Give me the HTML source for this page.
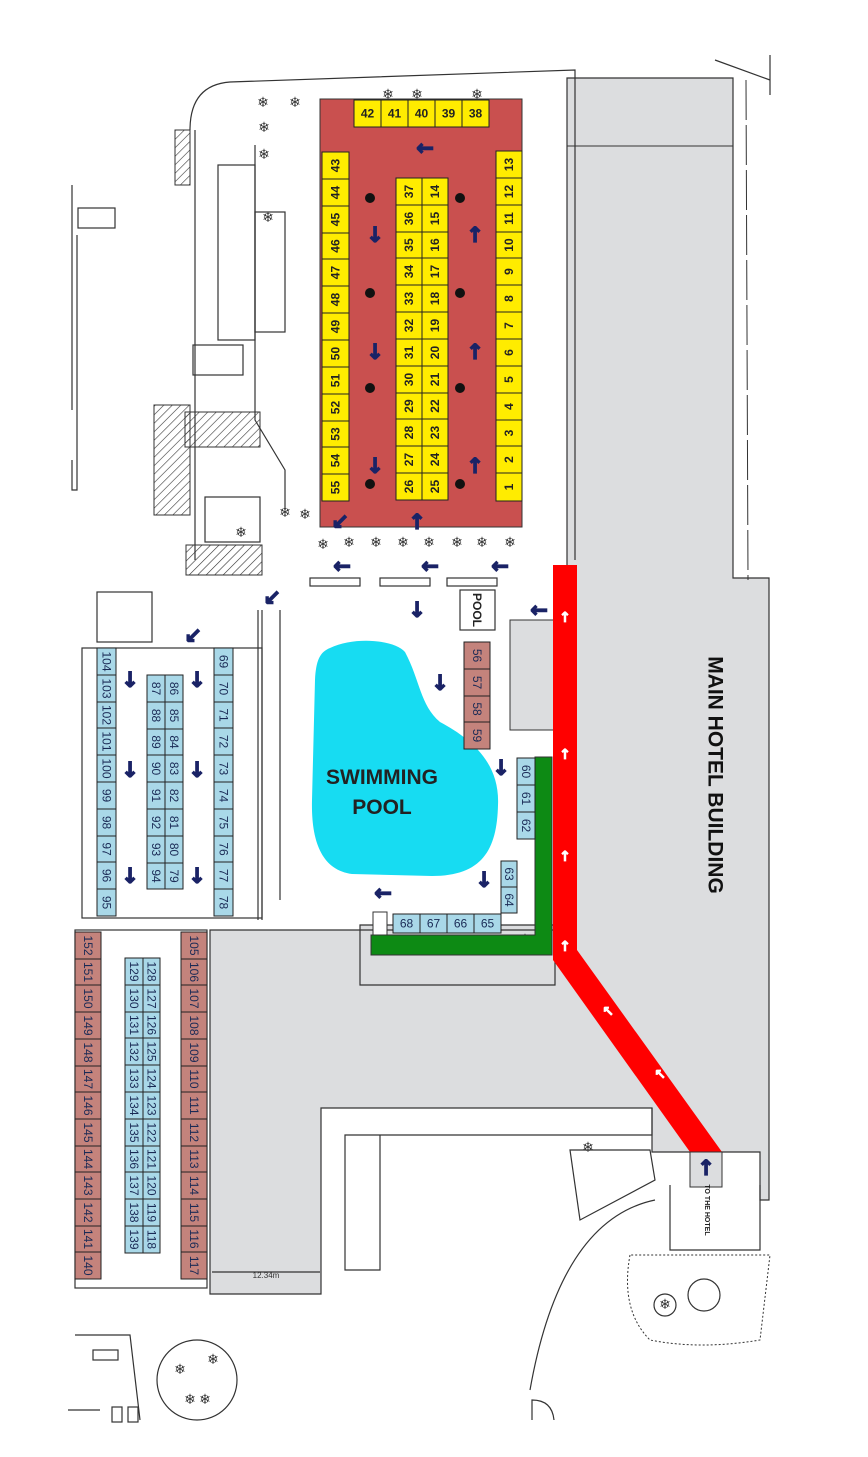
<!DOCTYPE html>
<html><head><meta charset="utf-8"><style>
html,body{margin:0;padding:0;background:#fff}
svg{display:block}
.y{fill:#ffec00;stroke:#222;stroke-width:1}
.b{fill:#a9d8e8;stroke:#222;stroke-width:1}
.r{fill:#c4837c;stroke:#222;stroke-width:1}
.t{font-family:"Liberation Sans",sans-serif;font-size:12px;font-weight:bold;fill:#222;text-anchor:middle;dominant-baseline:central}
.tb{font-family:"Liberation Sans",sans-serif;font-size:12px;fill:#1a2a55;text-anchor:middle;dominant-baseline:central}
.a{font-family:"DejaVu Sans",sans-serif;font-size:21px;font-weight:bold;fill:#1a2366;stroke:#1a2366;stroke-width:1.3;text-anchor:middle;dominant-baseline:central}
.w{font-family:"DejaVu Sans",sans-serif;font-size:14px;font-weight:bold;fill:#fff;stroke:#fff;stroke-width:0.8;text-anchor:middle;dominant-baseline:central}
.ln{fill:none;stroke:#333;stroke-width:1.2}
.sn{font-family:"DejaVu Sans",sans-serif;font-size:14px;fill:#333;text-anchor:middle;dominant-baseline:central}
</style></head><body>
<svg width="868" height="1457" viewBox="0 0 868 1457" xmlns="http://www.w3.org/2000/svg">
<path d="M567,78 L733,78 L733,578 L769,578 L769,1200 L760,1200 L760,1152 L652,1152 L652,1108 L321,1108 L321,1294 L210,1294 L210,930 L555,930 L555,985 L360,985 L360,925 L567,925 Z" fill="#dcdddf" stroke="#333" stroke-width="1.2"/>
<line x1="567" y1="146" x2="733" y2="146" stroke="#333"/>
<line x1="746" y1="80" x2="748" y2="580" stroke="#333" stroke-dasharray="40,5"/>
<path d="M715,60 L770,80 M770,55 L770,95" class="ln"/>
<path d="M190,130 Q190,85 230,82 L575,70 L575,560" class="ln"/>
<path d="M195,130 L195,560" class="ln"/>
<path d="M255,145 L255,420 L285,470 L285,510" class="ln"/>
<rect x="218" y="165" width="37" height="175" class="ln"/>
<rect x="255" y="212" width="30" height="120" class="ln"/>
<rect x="193" y="345" width="50" height="30" class="ln"/>
<defs><pattern id="h" width="6" height="6" patternUnits="userSpaceOnUse" patternTransform="rotate(45)"><line x1="0" y1="0" x2="0" y2="6" stroke="#333" stroke-width="1.2"/></pattern></defs>
<rect x="175" y="130" width="15" height="55" fill="url(#h)" stroke="#333"/>
<rect x="154" y="405" width="36" height="110" fill="url(#h)" stroke="#333"/>
<rect x="185" y="412" width="75" height="35" fill="url(#h)" stroke="#333"/>
<rect x="186" y="545" width="76" height="30" fill="url(#h)" stroke="#333"/>
<rect x="205" y="497" width="55" height="45" class="ln"/>
<path d="M72,185 L72,410 M72,460 L72,490 L77,490 L77,235" class="ln"/>
<rect x="78" y="208" width="37" height="20" class="ln"/>
<rect x="97" y="592" width="55" height="50" class="ln"/>
<path d="M258,610 L258,920 M280,610 L280,900 M262,610 L262,920" class="ln"/>
<rect x="82" y="648" width="180" height="270" class="ln"/>
<rect x="75" y="930" width="132" height="358" class="ln"/>
<path d="M212,1272 L320,1272" class="ln"/>
<text x="266" y="1278" font-family="Liberation Sans" font-size="8" fill="#333" text-anchor="middle">12.34m</text>
<path d="M380,1135 L380,1270 L345,1270 L345,1135 Z M380,1135 L652,1135 L652,1108" class="ln"/>
<path d="M570,1150 L650,1150 L655,1180 L580,1220 Z" class="ln"/>
<path d="M670,1185 L670,1250 L760,1250 L760,1185 M655,1200 Q560,1220 530,1390" class="ln"/>
<path d="M630,1255 Q620,1310 650,1340 Q700,1350 760,1340 L770,1255 Z" fill="#fff" stroke="#333" stroke-dasharray="2,2"/>
<circle cx="704" cy="1295" r="16" class="ln"/>
<circle cx="665" cy="1305" r="11" class="ln"/>
<text x="665" y="1305" class="sn">❄</text>
<path d="M532,1420 L532,1400 Q552,1400 554,1420" class="ln"/>
<circle cx="197" cy="1380" r="40" class="ln"/>
<text x="180" y="1370" class="sn">❄</text><text x="213" y="1360" class="sn">❄</text><text x="190" y="1400" class="sn">❄</text><text x="205" y="1400" class="sn">❄</text>
<path d="M75,1335 L130,1335 L140,1420 M68,1410 L100,1410" class="ln"/>
<rect x="93" y="1350" width="25" height="10" class="ln"/>
<rect x="112" y="1407" width="10" height="15" class="ln"/><rect x="128" y="1407" width="10" height="15" class="ln"/>
<rect x="510" y="620" width="45" height="110" fill="#dcdddf" stroke="#333"/>
<rect x="460" y="590" width="35" height="40" class="ln"/>
<text x="477" y="610" class="t" font-size="8" transform="rotate(90 477 610)">POOL</text>
<rect x="310" y="578" width="50" height="8" class="ln"/><rect x="380" y="578" width="50" height="8" class="ln"/><rect x="447" y="578" width="50" height="8" class="ln"/>
<rect x="320" y="99" width="202" height="428" fill="#c9504f" stroke="#333"/>
<g class="sn"><text x="263" y="103">❄</text><text x="295" y="103">❄</text><text x="388" y="95">❄</text><text x="417" y="95">❄</text><text x="477" y="95">❄</text><text x="264" y="128">❄</text><text x="264" y="155">❄</text><text x="268" y="218">❄</text>
<text x="285" y="513">❄</text><text x="305" y="515">❄</text><text x="323" y="545">❄</text><text x="349" y="543">❄</text><text x="376" y="543">❄</text><text x="403" y="543">❄</text><text x="429" y="543">❄</text><text x="457" y="543">❄</text><text x="482" y="543">❄</text><text x="510" y="543">❄</text><text x="241" y="533">❄</text>
<text x="525" y="940">❄</text><text x="588" y="1148">❄</text></g>
<g>
<rect class="y" x="354" y="100" width="27" height="27"/><text class="t" x="367.5" y="113.5">42</text>
<rect class="y" x="381" y="100" width="27" height="27"/><text class="t" x="394.5" y="113.5">41</text>
<rect class="y" x="408" y="100" width="27" height="27"/><text class="t" x="421.5" y="113.5">40</text>
<rect class="y" x="435" y="100" width="27" height="27"/><text class="t" x="448.5" y="113.5">39</text>
<rect class="y" x="462" y="100" width="27" height="27"/><text class="t" x="475.5" y="113.5">38</text>
</g>
<g>
<rect class="y" x="322" y="152" width="27" height="27"/><text class="t" x="335.5" y="165.5" transform="rotate(-90 335.5 165.5)">43</text>
<rect class="y" x="322" y="179" width="27" height="27"/><text class="t" x="335.5" y="192.5" transform="rotate(-90 335.5 192.5)">44</text>
<rect class="y" x="322" y="206" width="27" height="27"/><text class="t" x="335.5" y="219.5" transform="rotate(-90 335.5 219.5)">45</text>
<rect class="y" x="322" y="233" width="27" height="26"/><text class="t" x="335.5" y="246" transform="rotate(-90 335.5 246)">46</text>
<rect class="y" x="322" y="259" width="27" height="27"/><text class="t" x="335.5" y="272.5" transform="rotate(-90 335.5 272.5)">47</text>
<rect class="y" x="322" y="286" width="27" height="27"/><text class="t" x="335.5" y="299.5" transform="rotate(-90 335.5 299.5)">48</text>
<rect class="y" x="322" y="313" width="27" height="27"/><text class="t" x="335.5" y="326.5" transform="rotate(-90 335.5 326.5)">49</text>
<rect class="y" x="322" y="340" width="27" height="27"/><text class="t" x="335.5" y="353.5" transform="rotate(-90 335.5 353.5)">50</text>
<rect class="y" x="322" y="367" width="27" height="27"/><text class="t" x="335.5" y="380.5" transform="rotate(-90 335.5 380.5)">51</text>
<rect class="y" x="322" y="394" width="27" height="27"/><text class="t" x="335.5" y="407.5" transform="rotate(-90 335.5 407.5)">52</text>
<rect class="y" x="322" y="421" width="27" height="26"/><text class="t" x="335.5" y="434" transform="rotate(-90 335.5 434)">53</text>
<rect class="y" x="322" y="447" width="27" height="27"/><text class="t" x="335.5" y="460.5" transform="rotate(-90 335.5 460.5)">54</text>
<rect class="y" x="322" y="474" width="27" height="27"/><text class="t" x="335.5" y="487.5" transform="rotate(-90 335.5 487.5)">55</text>
</g>
<g>
<rect class="y" x="396" y="178" width="26" height="27"/><text class="t" x="409" y="191.5" transform="rotate(-90 409 191.5)">37</text>
<rect class="y" x="396" y="205" width="26" height="27"/><text class="t" x="409" y="218.5" transform="rotate(-90 409 218.5)">36</text>
<rect class="y" x="396" y="232" width="26" height="26"/><text class="t" x="409" y="245" transform="rotate(-90 409 245)">35</text>
<rect class="y" x="396" y="258" width="26" height="27"/><text class="t" x="409" y="271.5" transform="rotate(-90 409 271.5)">34</text>
<rect class="y" x="396" y="285" width="26" height="27"/><text class="t" x="409" y="298.5" transform="rotate(-90 409 298.5)">33</text>
<rect class="y" x="396" y="312" width="26" height="27"/><text class="t" x="409" y="325.5" transform="rotate(-90 409 325.5)">32</text>
<rect class="y" x="396" y="339" width="26" height="27"/><text class="t" x="409" y="352.5" transform="rotate(-90 409 352.5)">31</text>
<rect class="y" x="396" y="366" width="26" height="27"/><text class="t" x="409" y="379.5" transform="rotate(-90 409 379.5)">30</text>
<rect class="y" x="396" y="393" width="26" height="26"/><text class="t" x="409" y="406" transform="rotate(-90 409 406)">29</text>
<rect class="y" x="396" y="419" width="26" height="27"/><text class="t" x="409" y="432.5" transform="rotate(-90 409 432.5)">28</text>
<rect class="y" x="396" y="446" width="26" height="27"/><text class="t" x="409" y="459.5" transform="rotate(-90 409 459.5)">27</text>
<rect class="y" x="396" y="473" width="26" height="27"/><text class="t" x="409" y="486.5" transform="rotate(-90 409 486.5)">26</text>
<rect class="y" x="422" y="178" width="26" height="27"/><text class="t" x="435" y="191.5" transform="rotate(-90 435 191.5)">14</text>
<rect class="y" x="422" y="205" width="26" height="27"/><text class="t" x="435" y="218.5" transform="rotate(-90 435 218.5)">15</text>
<rect class="y" x="422" y="232" width="26" height="26"/><text class="t" x="435" y="245" transform="rotate(-90 435 245)">16</text>
<rect class="y" x="422" y="258" width="26" height="27"/><text class="t" x="435" y="271.5" transform="rotate(-90 435 271.5)">17</text>
<rect class="y" x="422" y="285" width="26" height="27"/><text class="t" x="435" y="298.5" transform="rotate(-90 435 298.5)">18</text>
<rect class="y" x="422" y="312" width="26" height="27"/><text class="t" x="435" y="325.5" transform="rotate(-90 435 325.5)">19</text>
<rect class="y" x="422" y="339" width="26" height="27"/><text class="t" x="435" y="352.5" transform="rotate(-90 435 352.5)">20</text>
<rect class="y" x="422" y="366" width="26" height="27"/><text class="t" x="435" y="379.5" transform="rotate(-90 435 379.5)">21</text>
<rect class="y" x="422" y="393" width="26" height="26"/><text class="t" x="435" y="406" transform="rotate(-90 435 406)">22</text>
<rect class="y" x="422" y="419" width="26" height="27"/><text class="t" x="435" y="432.5" transform="rotate(-90 435 432.5)">23</text>
<rect class="y" x="422" y="446" width="26" height="27"/><text class="t" x="435" y="459.5" transform="rotate(-90 435 459.5)">24</text>
<rect class="y" x="422" y="473" width="26" height="27"/><text class="t" x="435" y="486.5" transform="rotate(-90 435 486.5)">25</text>
</g>
<g>
<rect class="y" x="496" y="151" width="26" height="27"/><text class="t" x="509" y="164.5" transform="rotate(-90 509 164.5)">13</text>
<rect class="y" x="496" y="178" width="26" height="27"/><text class="t" x="509" y="191.5" transform="rotate(-90 509 191.5)">12</text>
<rect class="y" x="496" y="205" width="26" height="27"/><text class="t" x="509" y="218.5" transform="rotate(-90 509 218.5)">11</text>
<rect class="y" x="496" y="232" width="26" height="26"/><text class="t" x="509" y="245" transform="rotate(-90 509 245)">10</text>
<rect class="y" x="496" y="258" width="26" height="27"/><text class="t" x="509" y="271.5" transform="rotate(-90 509 271.5)">9</text>
<rect class="y" x="496" y="285" width="26" height="27"/><text class="t" x="509" y="298.5" transform="rotate(-90 509 298.5)">8</text>
<rect class="y" x="496" y="312" width="26" height="27"/><text class="t" x="509" y="325.5" transform="rotate(-90 509 325.5)">7</text>
<rect class="y" x="496" y="339" width="26" height="27"/><text class="t" x="509" y="352.5" transform="rotate(-90 509 352.5)">6</text>
<rect class="y" x="496" y="366" width="26" height="27"/><text class="t" x="509" y="379.5" transform="rotate(-90 509 379.5)">5</text>
<rect class="y" x="496" y="393" width="26" height="27"/><text class="t" x="509" y="406.5" transform="rotate(-90 509 406.5)">4</text>
<rect class="y" x="496" y="420" width="26" height="26"/><text class="t" x="509" y="433" transform="rotate(-90 509 433)">3</text>
<rect class="y" x="496" y="446" width="26" height="27"/><text class="t" x="509" y="459.5" transform="rotate(-90 509 459.5)">2</text>
<rect class="y" x="496" y="473" width="26" height="28"/><text class="t" x="509" y="487" transform="rotate(-90 509 487)">1</text>
</g>
<g fill="#111"><circle cx="370" cy="198" r="5"/><circle cx="370" cy="293" r="5"/><circle cx="370" cy="388" r="5"/><circle cx="370" cy="484" r="5"/><circle cx="460" cy="198" r="5"/><circle cx="460" cy="293" r="5"/><circle cx="460" cy="388" r="5"/><circle cx="460" cy="484" r="5"/></g>
<path d="M330,648 C355,636 395,640 405,652 C420,680 420,705 440,722 C470,738 500,762 498,805 C497,850 482,876 432,876 L352,874 C322,870 311,842 312,800 L315,680 C316,660 320,652 330,648 Z" fill="#17dcf2"/>
<text x="382" y="784" font-family="Liberation Sans" font-size="21" font-weight="bold" fill="#222" text-anchor="middle">SWIMMING</text>
<text x="382" y="814" font-family="Liberation Sans" font-size="21" font-weight="bold" fill="#222" text-anchor="middle">POOL</text>
<path d="M535,757 L552,757 L552,955 L371,955 L371,935 L535,935 Z" fill="#0d8a14" stroke="#333"/>
<rect x="373" y="912" width="14" height="23" fill="#fff" stroke="#333"/>
<g>
<rect class="b" x="97" y="648" width="19" height="27"/><text class="tb" x="106.5" y="661.5" transform="rotate(90 106.5 661.5)">104</text>
<rect class="b" x="97" y="675" width="19" height="27"/><text class="tb" x="106.5" y="688.5" transform="rotate(90 106.5 688.5)">103</text>
<rect class="b" x="97" y="702" width="19" height="26"/><text class="tb" x="106.5" y="715" transform="rotate(90 106.5 715)">102</text>
<rect class="b" x="97" y="728" width="19" height="27"/><text class="tb" x="106.5" y="741.5" transform="rotate(90 106.5 741.5)">101</text>
<rect class="b" x="97" y="755" width="19" height="27"/><text class="tb" x="106.5" y="768.5" transform="rotate(90 106.5 768.5)">100</text>
<rect class="b" x="97" y="782" width="19" height="27"/><text class="tb" x="106.5" y="795.5" transform="rotate(90 106.5 795.5)">99</text>
<rect class="b" x="97" y="809" width="19" height="27"/><text class="tb" x="106.5" y="822.5" transform="rotate(90 106.5 822.5)">98</text>
<rect class="b" x="97" y="836" width="19" height="26"/><text class="tb" x="106.5" y="849" transform="rotate(90 106.5 849)">97</text>
<rect class="b" x="97" y="862" width="19" height="27"/><text class="tb" x="106.5" y="875.5" transform="rotate(90 106.5 875.5)">96</text>
<rect class="b" x="97" y="889" width="19" height="27"/><text class="tb" x="106.5" y="902.5" transform="rotate(90 106.5 902.5)">95</text>
<rect class="b" x="214" y="648" width="19" height="27"/><text class="tb" x="223.5" y="661.5" transform="rotate(90 223.5 661.5)">69</text>
<rect class="b" x="214" y="675" width="19" height="27"/><text class="tb" x="223.5" y="688.5" transform="rotate(90 223.5 688.5)">70</text>
<rect class="b" x="214" y="702" width="19" height="26"/><text class="tb" x="223.5" y="715" transform="rotate(90 223.5 715)">71</text>
<rect class="b" x="214" y="728" width="19" height="27"/><text class="tb" x="223.5" y="741.5" transform="rotate(90 223.5 741.5)">72</text>
<rect class="b" x="214" y="755" width="19" height="27"/><text class="tb" x="223.5" y="768.5" transform="rotate(90 223.5 768.5)">73</text>
<rect class="b" x="214" y="782" width="19" height="27"/><text class="tb" x="223.5" y="795.5" transform="rotate(90 223.5 795.5)">74</text>
<rect class="b" x="214" y="809" width="19" height="27"/><text class="tb" x="223.5" y="822.5" transform="rotate(90 223.5 822.5)">75</text>
<rect class="b" x="214" y="836" width="19" height="26"/><text class="tb" x="223.5" y="849" transform="rotate(90 223.5 849)">76</text>
<rect class="b" x="214" y="862" width="19" height="27"/><text class="tb" x="223.5" y="875.5" transform="rotate(90 223.5 875.5)">77</text>
<rect class="b" x="214" y="889" width="19" height="27"/><text class="tb" x="223.5" y="902.5" transform="rotate(90 223.5 902.5)">78</text>
<rect class="b" x="147" y="675" width="18" height="27"/><text class="tb" x="156" y="688.5" transform="rotate(90 156 688.5)">87</text>
<rect class="b" x="147" y="702" width="18" height="27"/><text class="tb" x="156" y="715.5" transform="rotate(90 156 715.5)">88</text>
<rect class="b" x="147" y="729" width="18" height="26"/><text class="tb" x="156" y="742" transform="rotate(90 156 742)">89</text>
<rect class="b" x="147" y="755" width="18" height="27"/><text class="tb" x="156" y="768.5" transform="rotate(90 156 768.5)">90</text>
<rect class="b" x="147" y="782" width="18" height="27"/><text class="tb" x="156" y="795.5" transform="rotate(90 156 795.5)">91</text>
<rect class="b" x="147" y="809" width="18" height="27"/><text class="tb" x="156" y="822.5" transform="rotate(90 156 822.5)">92</text>
<rect class="b" x="147" y="836" width="18" height="27"/><text class="tb" x="156" y="849.5" transform="rotate(90 156 849.5)">93</text>
<rect class="b" x="147" y="863" width="18" height="26"/><text class="tb" x="156" y="876" transform="rotate(90 156 876)">94</text>
<rect class="b" x="165" y="675" width="18" height="27"/><text class="tb" x="174" y="688.5" transform="rotate(90 174 688.5)">86</text>
<rect class="b" x="165" y="702" width="18" height="27"/><text class="tb" x="174" y="715.5" transform="rotate(90 174 715.5)">85</text>
<rect class="b" x="165" y="729" width="18" height="26"/><text class="tb" x="174" y="742" transform="rotate(90 174 742)">84</text>
<rect class="b" x="165" y="755" width="18" height="27"/><text class="tb" x="174" y="768.5" transform="rotate(90 174 768.5)">83</text>
<rect class="b" x="165" y="782" width="18" height="27"/><text class="tb" x="174" y="795.5" transform="rotate(90 174 795.5)">82</text>
<rect class="b" x="165" y="809" width="18" height="27"/><text class="tb" x="174" y="822.5" transform="rotate(90 174 822.5)">81</text>
<rect class="b" x="165" y="836" width="18" height="27"/><text class="tb" x="174" y="849.5" transform="rotate(90 174 849.5)">80</text>
<rect class="b" x="165" y="863" width="18" height="26"/><text class="tb" x="174" y="876" transform="rotate(90 174 876)">79</text>
</g>
<g>
<rect class="r" x="464" y="642" width="26" height="27"/><text class="tb" x="477" y="655.5" transform="rotate(90 477 655.5)">56</text>
<rect class="r" x="464" y="669" width="26" height="27"/><text class="tb" x="477" y="682.5" transform="rotate(90 477 682.5)">57</text>
<rect class="r" x="464" y="696" width="26" height="26"/><text class="tb" x="477" y="709" transform="rotate(90 477 709)">58</text>
<rect class="r" x="464" y="722" width="26" height="27"/><text class="tb" x="477" y="735.5" transform="rotate(90 477 735.5)">59</text>
<rect class="b" x="517" y="758" width="18" height="27"/><text class="tb" x="526" y="771.5" transform="rotate(90 526 771.5)">60</text>
<rect class="b" x="517" y="785" width="18" height="27"/><text class="tb" x="526" y="798.5" transform="rotate(90 526 798.5)">61</text>
<rect class="b" x="517" y="812" width="18" height="27"/><text class="tb" x="526" y="825.5" transform="rotate(90 526 825.5)">62</text>
<rect class="b" x="501" y="861" width="16" height="26"/><text class="tb" x="509" y="874" transform="rotate(90 509 874)">63</text>
<rect class="b" x="501" y="887" width="16" height="26"/><text class="tb" x="509" y="900" transform="rotate(90 509 900)">64</text>
<rect class="b" x="393" y="914" width="27" height="19"/><text class="tb" x="406.5" y="923.5">68</text>
<rect class="b" x="420" y="914" width="27" height="19"/><text class="tb" x="433.5" y="923.5">67</text>
<rect class="b" x="447" y="914" width="27" height="19"/><text class="tb" x="460.5" y="923.5">66</text>
<rect class="b" x="474" y="914" width="27" height="19"/><text class="tb" x="487.5" y="923.5">65</text>
</g>
<g>
<rect class="r" x="75" y="932" width="26" height="27"/><text class="tb" x="88" y="945.5" transform="rotate(90 88 945.5)">152</text>
<rect class="r" x="75" y="959" width="26" height="26"/><text class="tb" x="88" y="972" transform="rotate(90 88 972)">151</text>
<rect class="r" x="75" y="985" width="26" height="27"/><text class="tb" x="88" y="998.5" transform="rotate(90 88 998.5)">150</text>
<rect class="r" x="75" y="1012" width="26" height="27"/><text class="tb" x="88" y="1025.5" transform="rotate(90 88 1025.5)">149</text>
<rect class="r" x="75" y="1039" width="26" height="27"/><text class="tb" x="88" y="1052.5" transform="rotate(90 88 1052.5)">148</text>
<rect class="r" x="75" y="1066" width="26" height="26"/><text class="tb" x="88" y="1079" transform="rotate(90 88 1079)">147</text>
<rect class="r" x="75" y="1092" width="26" height="27"/><text class="tb" x="88" y="1105.5" transform="rotate(90 88 1105.5)">146</text>
<rect class="r" x="75" y="1119" width="26" height="27"/><text class="tb" x="88" y="1132.5" transform="rotate(90 88 1132.5)">145</text>
<rect class="r" x="75" y="1146" width="26" height="26"/><text class="tb" x="88" y="1159" transform="rotate(90 88 1159)">144</text>
<rect class="r" x="75" y="1172" width="26" height="27"/><text class="tb" x="88" y="1185.5" transform="rotate(90 88 1185.5)">143</text>
<rect class="r" x="75" y="1199" width="26" height="27"/><text class="tb" x="88" y="1212.5" transform="rotate(90 88 1212.5)">142</text>
<rect class="r" x="75" y="1226" width="26" height="26"/><text class="tb" x="88" y="1239" transform="rotate(90 88 1239)">141</text>
<rect class="r" x="75" y="1252" width="26" height="27"/><text class="tb" x="88" y="1265.5" transform="rotate(90 88 1265.5)">140</text>
<rect class="r" x="181" y="932" width="26" height="27"/><text class="tb" x="194" y="945.5" transform="rotate(90 194 945.5)">105</text>
<rect class="r" x="181" y="959" width="26" height="26"/><text class="tb" x="194" y="972" transform="rotate(90 194 972)">106</text>
<rect class="r" x="181" y="985" width="26" height="27"/><text class="tb" x="194" y="998.5" transform="rotate(90 194 998.5)">107</text>
<rect class="r" x="181" y="1012" width="26" height="27"/><text class="tb" x="194" y="1025.5" transform="rotate(90 194 1025.5)">108</text>
<rect class="r" x="181" y="1039" width="26" height="27"/><text class="tb" x="194" y="1052.5" transform="rotate(90 194 1052.5)">109</text>
<rect class="r" x="181" y="1066" width="26" height="26"/><text class="tb" x="194" y="1079" transform="rotate(90 194 1079)">110</text>
<rect class="r" x="181" y="1092" width="26" height="27"/><text class="tb" x="194" y="1105.5" transform="rotate(90 194 1105.5)">111</text>
<rect class="r" x="181" y="1119" width="26" height="27"/><text class="tb" x="194" y="1132.5" transform="rotate(90 194 1132.5)">112</text>
<rect class="r" x="181" y="1146" width="26" height="26"/><text class="tb" x="194" y="1159" transform="rotate(90 194 1159)">113</text>
<rect class="r" x="181" y="1172" width="26" height="27"/><text class="tb" x="194" y="1185.5" transform="rotate(90 194 1185.5)">114</text>
<rect class="r" x="181" y="1199" width="26" height="27"/><text class="tb" x="194" y="1212.5" transform="rotate(90 194 1212.5)">115</text>
<rect class="r" x="181" y="1226" width="26" height="26"/><text class="tb" x="194" y="1239" transform="rotate(90 194 1239)">116</text>
<rect class="r" x="181" y="1252" width="26" height="27"/><text class="tb" x="194" y="1265.5" transform="rotate(90 194 1265.5)">117</text>
<rect class="b" x="125" y="958" width="18" height="27"/><text class="tb" x="134" y="971.5" transform="rotate(90 134 971.5)">129</text>
<rect class="b" x="125" y="985" width="18" height="27"/><text class="tb" x="134" y="998.5" transform="rotate(90 134 998.5)">130</text>
<rect class="b" x="125" y="1012" width="18" height="26"/><text class="tb" x="134" y="1025" transform="rotate(90 134 1025)">131</text>
<rect class="b" x="125" y="1038" width="18" height="27"/><text class="tb" x="134" y="1051.5" transform="rotate(90 134 1051.5)">132</text>
<rect class="b" x="125" y="1065" width="18" height="27"/><text class="tb" x="134" y="1078.5" transform="rotate(90 134 1078.5)">133</text>
<rect class="b" x="125" y="1092" width="18" height="27"/><text class="tb" x="134" y="1105.5" transform="rotate(90 134 1105.5)">134</text>
<rect class="b" x="125" y="1119" width="18" height="27"/><text class="tb" x="134" y="1132.5" transform="rotate(90 134 1132.5)">135</text>
<rect class="b" x="125" y="1146" width="18" height="26"/><text class="tb" x="134" y="1159" transform="rotate(90 134 1159)">136</text>
<rect class="b" x="125" y="1172" width="18" height="27"/><text class="tb" x="134" y="1185.5" transform="rotate(90 134 1185.5)">137</text>
<rect class="b" x="125" y="1199" width="18" height="27"/><text class="tb" x="134" y="1212.5" transform="rotate(90 134 1212.5)">138</text>
<rect class="b" x="125" y="1226" width="18" height="27"/><text class="tb" x="134" y="1239.5" transform="rotate(90 134 1239.5)">139</text>
<rect class="b" x="143" y="958" width="17" height="27"/><text class="tb" x="151.5" y="971.5" transform="rotate(90 151.5 971.5)">128</text>
<rect class="b" x="143" y="985" width="17" height="27"/><text class="tb" x="151.5" y="998.5" transform="rotate(90 151.5 998.5)">127</text>
<rect class="b" x="143" y="1012" width="17" height="26"/><text class="tb" x="151.5" y="1025" transform="rotate(90 151.5 1025)">126</text>
<rect class="b" x="143" y="1038" width="17" height="27"/><text class="tb" x="151.5" y="1051.5" transform="rotate(90 151.5 1051.5)">125</text>
<rect class="b" x="143" y="1065" width="17" height="27"/><text class="tb" x="151.5" y="1078.5" transform="rotate(90 151.5 1078.5)">124</text>
<rect class="b" x="143" y="1092" width="17" height="27"/><text class="tb" x="151.5" y="1105.5" transform="rotate(90 151.5 1105.5)">123</text>
<rect class="b" x="143" y="1119" width="17" height="27"/><text class="tb" x="151.5" y="1132.5" transform="rotate(90 151.5 1132.5)">122</text>
<rect class="b" x="143" y="1146" width="17" height="26"/><text class="tb" x="151.5" y="1159" transform="rotate(90 151.5 1159)">121</text>
<rect class="b" x="143" y="1172" width="17" height="27"/><text class="tb" x="151.5" y="1185.5" transform="rotate(90 151.5 1185.5)">120</text>
<rect class="b" x="143" y="1199" width="17" height="27"/><text class="tb" x="151.5" y="1212.5" transform="rotate(90 151.5 1212.5)">119</text>
<rect class="b" x="143" y="1226" width="17" height="27"/><text class="tb" x="151.5" y="1239.5" transform="rotate(90 151.5 1239.5)">118</text>
</g>
<path d="M553,565 L577,565 L577,950 L722,1152 L690,1152 L553,960 Z" fill="#ff0000"/>
<rect x="690" y="1152" width="32" height="35" fill="#dcdddf" stroke="#333"/>
<text x="706" y="1168" class="a" font-size="28">↑</text>
<text x="705" y="1210" font-family="Liberation Sans" font-size="7" font-weight="bold" fill="#222" text-anchor="middle" transform="rotate(90 705 1210)">TO THE HOTEL</text>
<g class="w"><text x="565" y="618">↑</text><text x="565" y="755">↑</text><text x="565" y="857">↑</text><text x="565" y="947">↑</text><text x="608" y="1012">↖</text><text x="660" y="1075">↖</text></g>
<g class="a">
<text x="425" y="148">←</text>
<text x="375" y="235">↓</text><text x="375" y="352">↓</text><text x="375" y="466">↓</text>
<text x="475" y="235">↑</text><text x="475" y="352">↑</text><text x="475" y="466">↑</text>
<text x="340" y="522">↙</text><text x="417" y="522">↑</text>
<text x="342" y="566">←</text><text x="430" y="566">←</text><text x="500" y="566">←</text>
<text x="272" y="598">↙</text><text x="417" y="610">↓</text><text x="539" y="610">←</text>
<text x="193" y="636">↙</text>
<text x="130" y="680">↓</text><text x="197" y="680">↓</text><text x="130" y="770">↓</text><text x="197" y="770">↓</text><text x="130" y="876">↓</text><text x="197" y="876">↓</text>
<text x="440" y="683">↓</text><text x="501" y="768">↓</text><text x="484" y="880">↓</text><text x="383" y="893">←</text>
</g>
<text x="715" y="775" font-family="Liberation Sans" font-size="21" font-weight="bold" fill="#111" text-anchor="middle" dominant-baseline="central" transform="rotate(90 715 775)">MAIN HOTEL BUILDING</text>
</svg>
</body></html>
